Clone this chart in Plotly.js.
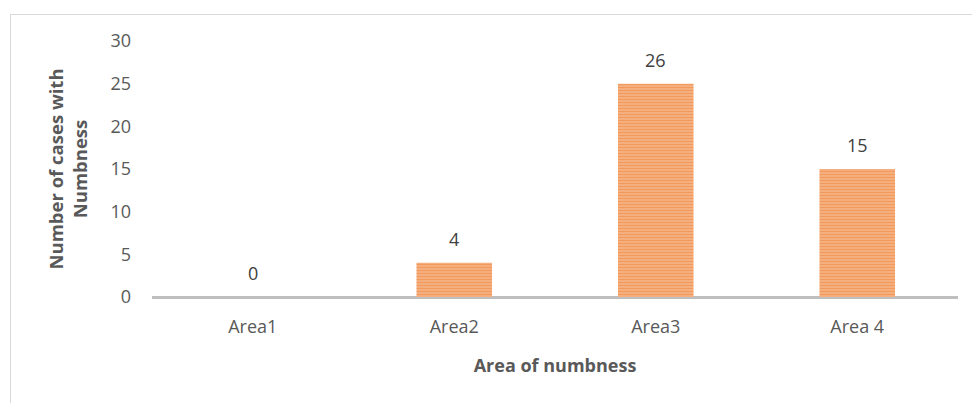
<!DOCTYPE html>
<html>
<head>
<meta charset="utf-8">
<script src="https://cdn.plot.ly/plotly-3.0.1.min.js"></script>
<style>
html,body{margin:0;padding:0;background:#fff;}
#frame{position:absolute;left:10px;top:14px;width:970px;height:400px;border-left:1px solid #D9D9D9;border-top:1px solid #D9D9D9;}
#chart{position:absolute;left:0;top:0;width:972px;height:403px;}
</style>
</head>
<body>
<div id="frame"></div>
<div id="chart"></div>
<script>
const categories = ["Area1", "Area2", "Area3", "Area 4"];
const barValues = [0, 4, 25, 15];
const labelTexts = ["0", "4", "26", "15"];
const yTickValues = [0, 5, 10, 15, 20, 25, 30];

const font = "'Open Sans', 'Noto Sans', sans-serif";
const gray = "#595959";

const trace = {
  type: "bar",
  x: categories,
  y: barValues,
  marker: {
    color: "#F6B185",
    line: {width: 0},
    pattern: {shape: "-", fgcolor: "#ED7D31", bgcolor: "#F7B68B", size: 3, solidity: 0.55, fillmode: "overlay"}
  },
  hoverinfo: "none"
};

const annotations = categories.map((c, i) => ({
  x: c, y: barValues[i], text: labelTexts[i], showarrow: false,
  xref: "x", yref: "y", yanchor: "bottom", yshift: 10,
  font: {family: font, size: 18, color: "#404040"}
}));

const layout = {
  width: 972, height: 403,
  margin: {l: 152, r: 14, t: 41, b: 106},
  paper_bgcolor: "rgba(0,0,0,0)",
  plot_bgcolor: "rgba(0,0,0,0)",
  bargap: 0.625,
  showlegend: false,
  font: {family: font, color: gray, size: 18},
  xaxis: {
    type: "category",
    showgrid: false, zeroline: false,
    showline: false,
    ticks: "", ticklabelstandoff: 17,
    tickfont: {family: font, size: 18, color: gray},
    title: {text: "<b>Area of numbness</b>", standoff: 22, font: {family: font, size: 18, color: gray}},
    automargin: false
  },
  yaxis: {
    range: [0, 30],
    tickvals: yTickValues,
    showgrid: false,
    zeroline: true, zerolinecolor: "#BFBFBF", zerolinewidth: 3,
    showline: false, ticks: "", ticklabelstandoff: 20,
    tickfont: {family: font, size: 18, color: gray},
    title: {text: "<b>Number of cases with<br>Numbness</b>", standoff: 17, font: {family: font, size: 18.5, color: gray}},
    automargin: false
  },
  annotations: annotations
};

Plotly.newPlot("chart", [trace], layout, {displayModeBar: false, staticPlot: true});
</script>
</body>
</html>
